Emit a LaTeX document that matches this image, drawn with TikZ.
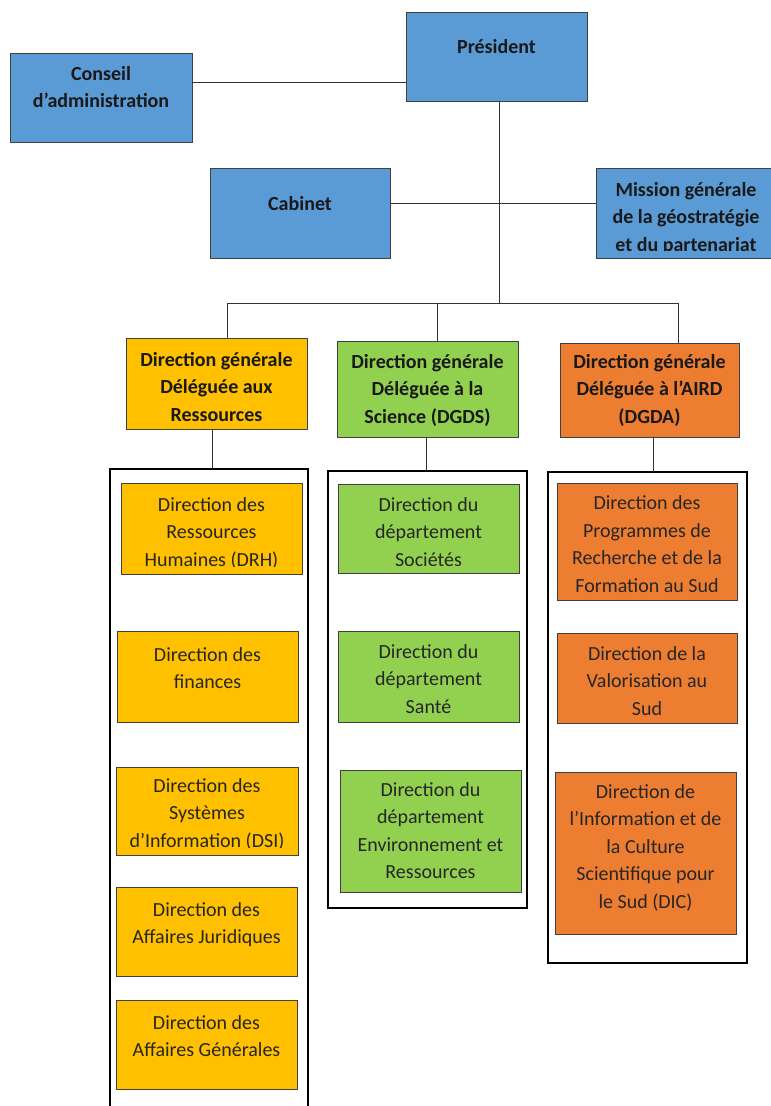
\documentclass[tikz,border=0pt]{standalone}
\usepackage{fontspec}
\setmainfont{Carlito}
\definecolor{bl}{HTML}{5B9BD5}
\definecolor{yl}{HTML}{FFC000}
\definecolor{gr}{HTML}{92D050}
\definecolor{orng}{HTML}{ED7D31}
\def\clipoff{8}
\tikzset{
  clipoff/.store in=\clipoff,
  box/.style={draw=black!75, line width=0.8pt, inner sep=0pt, outer sep=0pt, anchor=north west},
  inner/.style={anchor=north, inner sep=0pt, outer sep=0pt, minimum width=0pt, minimum height=0pt, draw=none, fill=none, align=center},
  btext/.style 2 args={path picture={\clip ([yshift=\clipoff pt]path picture bounding box.south west) rectangle (path picture bounding box.north east);
    \node[inner, font=\fontsize{20}{27.5}\selectfont, text=black!85] at ([yshift=-#1 pt]path picture bounding box.north) {\strut #2};}},
  bbtext/.style 2 args={path picture={\clip ([yshift=\clipoff pt]path picture bounding box.south west) rectangle (path picture bounding box.north east);
    \node[inner, font=\fontsize{20}{27.5}\selectfont\bfseries, text=black!90] at ([yshift=-#1 pt]path picture bounding box.north) {\strut #2};}},
  cont/.style={draw=black, line width=2pt, inner sep=0pt, outer sep=0pt, anchor=north west},
  conn/.style={draw=black!80, line width=1pt},
}
\begin{document}
\begin{tikzpicture}[x=1pt,y=-1pt]
\useasboundingbox[fill=white] (0,0) rectangle (771,1106);
% top level
\node[box, fill=bl, minimum width=181pt, minimum height=89pt, bbtext={21.75}{Président}] (pres) at (406,12) {};
\node[box, fill=bl, minimum width=182pt, minimum height=89pt, bbtext={7.75}{Conseil\\d’administration}] (cons) at (10,53) {};
\node[box, fill=bl, minimum width=180pt, minimum height=90pt, bbtext={22.75}{Cabinet}] (cab) at (210,168) {};
\node[box, fill=bl, minimum width=180pt, minimum height=90pt, clipoff=8, bbtext={8.75}{Mission générale\\de la géostratégie\\et du partenariat}] (mis) at (596,168) {};
% general directions
\node[box, fill=yl, minimum width=181pt, minimum height=91pt, clipoff=3, bbtext={8.75}{Direction générale\\Déléguée aux\\Ressources}] (dgr) at (126,338) {};
\node[box, fill=gr, minimum width=181pt, minimum height=96pt, clipoff=3, bbtext={7.75}{Direction générale\\Déléguée à la\\Science (DGDS)}] (dgs) at (337,341) {};
\node[box, fill=orng, minimum width=179pt, minimum height=94pt, clipoff=3, bbtext={5.75}{Direction générale\\Déléguée à l’AIRD\\(DGDA)}] (dga) at (560,343) {};
% containers
\node[cont, minimum width=198pt, minimum height=650pt] (c1) at (110,469) {};
\node[cont, minimum width=199pt, minimum height=437pt] (c2) at (328,471) {};
\node[cont, minimum width=199pt, minimum height=491pt] (c3) at (548,472) {};
% column 1
\node[box, fill=yl, minimum width=181pt, minimum height=91pt, btext={8.75}{Direction des\\Ressources\\Humaines (DRH)}] (drh) at (121,483) {};
\node[box, fill=yl, minimum width=181pt, minimum height=91pt, btext={10.75}{Direction des\\finances}] (fin) at (117,631) {};
\node[box, fill=yl, minimum width=182pt, minimum height=88pt, btext={5.75}{Direction des\\Systèmes\\d’Information (DSI)}] (dsi) at (116,767) {};
\node[box, fill=yl, minimum width=181pt, minimum height=89pt, btext={9.75}{Direction des\\Affaires Juridiques}] (jur) at (116,887) {};
\node[box, fill=yl, minimum width=181pt, minimum height=89pt, btext={9.75}{Direction des\\Affaires Générales}] (gen) at (116,1000) {};
% column 2
\node[box, fill=gr, minimum width=181pt, minimum height=89pt, btext={7.75}{Direction du\\département\\Sociétés}] (soc) at (338,484) {};
\node[box, fill=gr, minimum width=181pt, minimum height=91pt, btext={7.75}{Direction du\\département\\Santé}] (san) at (338,631) {};
\node[box, fill=gr, minimum width=181pt, minimum height=122pt, btext={6.75}{Direction du\\département\\Environnement et\\Ressources}] (env) at (340,770) {};
% column 3
\node[box, fill=orng, minimum width=180pt, minimum height=117pt, btext={7.25}{Direction des\\Programmes de\\Recherche et de la\\Formation au Sud}] (prog) at (557,483) {};
\node[box, fill=orng, minimum width=180pt, minimum height=90pt, btext={7.75}{Direction de la\\Valorisation au\\Sud}] (val) at (557,633) {};
\node[box, fill=orng, minimum width=181pt, minimum height=162pt, btext={6.75}{Direction de\\l’Information et de\\la Culture\\Scientifique pour\\le Sud (DIC)}] (dic) at (555,772) {};
% connectors
\coordinate (l1) at (300,82);
\coordinate (l2) at (500,203);
\coordinate (bus) at (499,303);
\coordinate (dL) at (227,303);
\coordinate (dM) at (437,303);
\coordinate (dR) at (678,303);
\draw[conn] (cons.east |- l1) -- (l1 -| pres.west);
\draw[conn] (cab.east |- l2) -- (l2 -| mis.west);
\draw[conn] (pres.south -| bus) -- (bus);
\draw[conn] (dL) -- (dR);
\draw[conn] (dL) -- (dL |- dgr.north);
\draw[conn] (dM) -- (dM |- dgs.north);
\draw[conn] (dR) -- (dR |- dga.north);
\draw[conn] ([xshift=-4.5pt]dgr.south) -- ([xshift=-4.5pt]dgr.south |- c1.north);
\draw[conn] ([xshift=-1.5pt]dgs.south) -- ([xshift=-1.5pt]dgs.south |- c2.north);
\draw[conn] ([xshift=3.5pt]dga.south) -- ([xshift=3.5pt]dga.south |- c3.north);
\end{tikzpicture}
\end{document}
